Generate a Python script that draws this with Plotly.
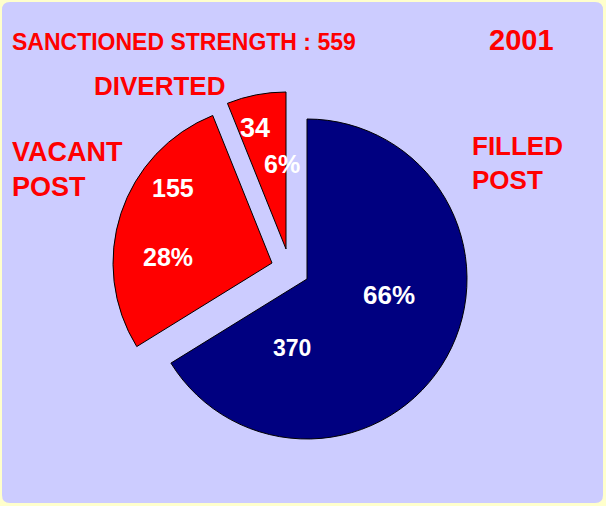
import plotly.graph_objects as go

# ---- data ----
categories = ["FILLED POST", "VACANT POST", "DIVERTED"]
values = [370, 155, 34]
slice_colors = ["#000080", "#FF0000", "#FF0000"]
title_text = "SANCTIONED STRENGTH : 559"
year_text = "2001"

W, H = 606, 506
total = sum(values)
pcts = [round(v * 100 / total) for v in values]


def X(px):
    return px / W


def Y(py):
    return 1 - py / H


fig = go.Figure()

# each slice drawn by its own pie trace (others transparent) so that
# exploded slices can be offset like the original
slice_geom = [  # (centre x px, centre y px, radius px)
    (307, 279, 160),
    (272, 263, 159),
    (286, 249, 157),
]
for i, (cx, cy, r) in enumerate(slice_geom):
    cols = ["rgba(0,0,0,0)"] * len(values)
    lcols = ["rgba(0,0,0,0)"] * len(values)
    cols[i] = slice_colors[i]
    lcols[i] = "#000000"
    fig.add_trace(go.Pie(
        labels=categories, values=values, sort=False,
        direction="clockwise", rotation=0,
        marker=dict(colors=cols, line=dict(color=lcols, width=1)),
        textinfo="none", hoverinfo="none", showlegend=False,
        domain=dict(x=[X(cx - r), X(cx + r)], y=[Y(cy + r), Y(cy - r)]),
    ))

# rounded lavender panel
x0, y0, x1, y1, rr = X(2), Y(2), X(603), Y(503), 8
rx, ry = rr / W, rr / H
path = (f"M {x0+rx},{y0} L {x1-rx},{y0} Q {x1},{y0} {x1},{y0-ry} "
        f"L {x1},{y1+ry} Q {x1},{y1} {x1-rx},{y1} L {x0+rx},{y1} "
        f"Q {x0},{y1} {x0},{y1+ry} L {x0},{y0-ry} Q {x0},{y0} {x0+rx},{y0} Z")

font = "Arial, Liberation Sans, sans-serif"


def ann(text, px, py, size, color, anchor="center"):
    return dict(text=f"<b>{text}</b>", x=X(px), y=Y(py), xref="paper", yref="paper",
                xanchor=anchor, yanchor="middle", showarrow=False,
                align="left" if anchor == "left" else "center",
                font=dict(family=font, size=size, color=color))


annotations = [
    ann(title_text, 10, 42, 23, "#FF0000", "left"),
    ann(year_text, 521, 40, 29, "#FF0000"),
    ann("DIVERTED", 160, 86, 26, "#FF0000"),
    ann("VACANT<br>POST", 10, 169, 27, "#FF0000", "left"),
    ann("FILLED<br>POST", 470, 163, 26, "#FF0000", "left"),
    ann(str(values[2]), 255, 128, 27, "#FFFFFF"),
    ann(f"{pcts[2]}%", 282, 164, 25, "#FFFFFF"),
    ann(str(values[1]), 173, 188, 25, "#FFFFFF"),
    ann(f"{pcts[1]}%", 168, 257, 25, "#FFFFFF"),
    ann(f"{pcts[0]}%", 389, 295, 26, "#FFFFFF"),
    ann(str(values[0]), 292, 348, 23, "#FFFFFF"),
]

fig.update_layout(
    width=W, height=H,
    margin=dict(l=0, r=0, t=0, b=0),
    paper_bgcolor="#FFFFCC",
    shapes=[dict(type="path", path=path, xref="paper", yref="paper",
                 fillcolor="#CCCCFF", line=dict(width=0), layer="below")],
    annotations=annotations,
)

fig.write_html("out.html", config={"displayModeBar": False},
               post_script="document.body.style.margin='0';document.body.style.padding='0';")
